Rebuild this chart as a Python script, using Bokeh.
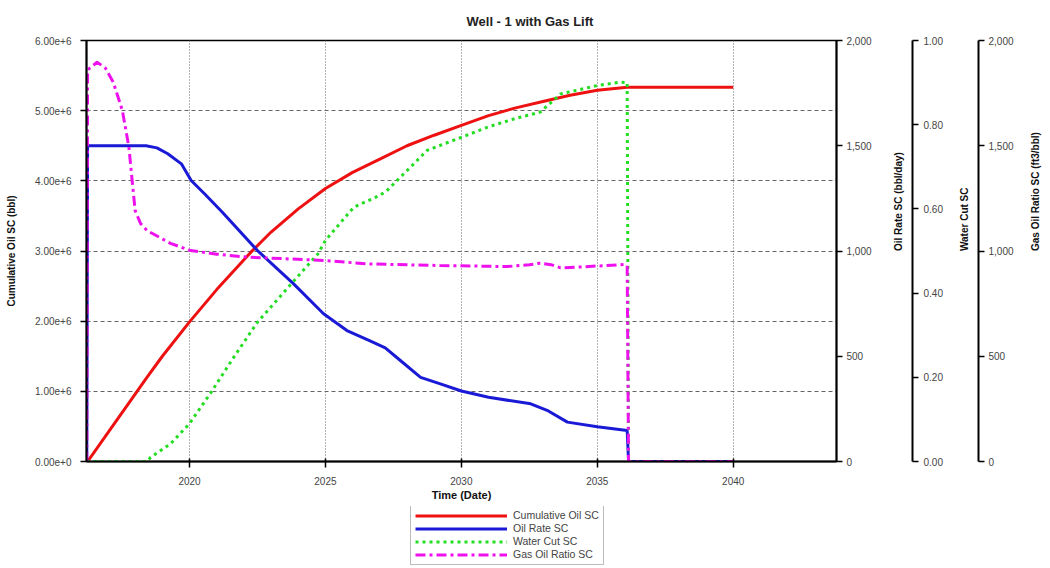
import math
from bokeh.plotting import figure
from bokeh.layouts import column
from bokeh.models import (Range1d, LinearAxis, FixedTicker, NumeralTickFormatter,
                          PrintfTickFormatter, Legend, LegendItem)
from bokeh.embed import file_html
from bokeh.resources import INLINE

# ---------------- data ----------------
cum_years = [2016.25, 2017.0, 2018.0, 2018.4, 2019.0, 2020.0, 2021.0, 2022.25, 2023.0,
             2024.0, 2025.0, 2026.0, 2027.0, 2028.0, 2029.0, 2030.0, 2031.0, 2032.0,
             2033.0, 2034.0, 2035.0, 2036.1, 2040.0]
cum_oil = [0, 0.41e6, 0.96e6, 1.18e6, 1.5e6, 1.99e6, 2.45e6, 2.98e6, 3.27e6,
           3.6e6, 3.89e6, 4.12e6, 4.31e6, 4.5e6, 4.65e6, 4.79e6, 4.93e6, 5.04e6,
           5.13e6, 5.22e6, 5.29e6, 5.335e6, 5.335e6]

rate_years = [2016.22, 2016.25, 2018.4, 2018.8, 2019.2, 2019.7, 2020.06, 2020.55, 2021.2,
              2022.5, 2023.83, 2024.93, 2025.79, 2026.6, 2027.2, 2027.8, 2028.5, 2029.2,
              2030.0, 2031.0, 2032.55, 2033.2, 2033.9, 2035.0, 2036.1, 2036.15, 2040.0]
oil_rate = [0, 1500, 1500, 1490, 1462, 1414, 1335, 1272, 1185,
            1002, 844, 702, 622, 575, 540, 475, 400, 370,
            335, 305, 274, 240, 187, 165, 147, 0, 0]

wc_years = [2016.22, 2018.44, 2018.57, 2019.3, 2020.0, 2020.8, 2021.63, 2022.5, 2023.74,
            2024.72, 2025.0, 2026.04, 2027.0, 2027.27, 2028.25, 2028.74, 2030.0, 2031.0,
            2032.0, 2032.9, 2033.65, 2035.0, 2035.85, 2036.1, 2036.15, 2040.0]
water_cut = [0, 0, 0.01, 0.042, 0.09, 0.165, 0.248, 0.331, 0.422,
             0.493, 0.525, 0.604, 0.632, 0.644, 0.707, 0.739, 0.77, 0.795,
             0.815, 0.83, 0.873, 0.893, 0.901, 0.9, 0, 0]

gor_years = [2016.22, 2016.25, 2016.6, 2016.9, 2017.2, 2017.53, 2017.77, 2017.9, 2018.0,
             2018.2, 2018.44, 2019.3, 2020.04, 2021.0, 2022.1, 2025.0, 2026.5, 2029.2,
             2031.68, 2032.5, 2032.9, 2033.3, 2033.65, 2034.5, 2036.0, 2036.1, 2036.15, 2040.0]
gor = [0, 1860, 1897, 1870, 1800, 1667, 1493, 1320, 1192,
       1130, 1097, 1036, 1002, 985, 971, 955, 939, 931,
       926, 935, 942, 935, 920, 925, 936, 930, 0, 0]

series_names = ["Cumulative Oil SC", "Oil Rate SC", "Water Cut SC", "Gas Oil Ratio SC"]

x_ticks = [2020, 2025, 2030, 2035, 2040]
left_ticks = [0, 1e6, 2e6, 3e6, 4e6, 5e6, 6e6]
rate_ticks = [0, 500, 1000, 1500, 2000]
wc_ticks = [0, 0.2, 0.4, 0.6, 0.8, 1.0]
gor_ticks = [0, 500, 1000, 1500, 2000]

FONT = "Liberation Sans"
TICK_COLOR = "#444444"

STYLES = [dict(line_color="#ee1111", line_width=3),
          dict(line_color="#1a1ad6", line_width=3),
          dict(line_color="#22dd22", line_width=3, line_dash="3 4"),
          dict(line_color="#ee11ee", line_width=3, line_dash="10 4 3 4")]

p = figure(width=1050, height=506, output_backend="svg", toolbar_location=None,
           x_range=Range1d(2016.21, 2043.8), y_range=Range1d(0, 6e6),
           min_border_left=86, min_border_right=214, min_border_top=40,
           min_border_bottom=45, background_fill_color="white",
           border_fill_color="white", outline_line_color="black",
           outline_line_width=1.5)

p.title.text = "Well - 1 with Gas Lift"
p.title.align = "left"
p.title.offset = 380
p.title.text_font = FONT
p.title.text_font_size = "13px"
p.title.text_font_style = "bold"
p.title.text_color = "#222222"
p.title.standoff = 23

p.extra_y_ranges = {"rate": Range1d(0, 2000), "wc": Range1d(0, 1), "gor": Range1d(0, 2000)}


def style_axis(ax, label):
    ax.axis_label = label
    ax.axis_label_text_font = FONT
    ax.axis_label_text_font_size = "10px"
    ax.axis_label_text_font_style = "bold"
    ax.axis_label_text_color = "#111111"
    ax.major_label_text_font = FONT
    ax.major_label_text_font_size = "10px"
    ax.major_label_text_color = TICK_COLOR
    ax.axis_line_color = "black"
    ax.axis_line_width = 2
    ax.major_tick_line_color = "black"
    ax.major_tick_line_width = 1.5
    ax.major_tick_out = 6
    ax.major_tick_in = 0
    ax.minor_tick_line_color = None


# x axis
xa = p.xaxis[0]
style_axis(xa, "Time (Date)")
xa.ticker = FixedTicker(ticks=x_ticks)
xa.major_tick_in = 3
xa.major_label_standoff = 9
xa.axis_label_standoff = 1
xa.axis_label_text_font_size = "11px"

# left axis
ya = p.yaxis[0]
style_axis(ya, "Cumulative Oil SC (bbl)")
ya.ticker = FixedTicker(ticks=left_ticks)
ya.formatter = PrintfTickFormatter(format="%.2e")
ya.major_label_standoff = 9
ya.axis_label_standoff = 15

# right axes
ax_rate = LinearAxis(y_range_name="rate", ticker=FixedTicker(ticks=rate_ticks),
                     formatter=NumeralTickFormatter(format="0,0"))
style_axis(ax_rate, "Oil Rate SC (bbl/day)")
ax_rate.axis_label_orientation = math.pi / 2
ax_rate.major_label_standoff = 4
ax_rate.axis_label_standoff = 24
p.add_layout(ax_rate, "right")

ax_wc = LinearAxis(y_range_name="wc", ticker=FixedTicker(ticks=wc_ticks),
                   formatter=NumeralTickFormatter(format="0.00"))
style_axis(ax_wc, "Water Cut SC")
ax_wc.axis_label_orientation = math.pi / 2
ax_wc.major_label_standoff = 5
ax_wc.axis_label_standoff = 19
p.add_layout(ax_wc, "right")

ax_gor = LinearAxis(y_range_name="gor", ticker=FixedTicker(ticks=gor_ticks),
                    formatter=NumeralTickFormatter(format="0,0"))
style_axis(ax_gor, "Gas Oil Ratio SC (ft3/bbl)")
ax_gor.axis_label_orientation = math.pi / 2
ax_gor.major_label_standoff = 4
ax_gor.axis_label_standoff = 19
p.add_layout(ax_gor, "right")

# grids
p.xgrid.ticker = FixedTicker(ticks=x_ticks)
p.xgrid.grid_line_color = "#666666"
p.xgrid.grid_line_dash = "1 2"
p.xgrid.grid_line_width = 1
p.ygrid.ticker = FixedTicker(ticks=left_ticks)
p.ygrid.grid_line_color = "#666666"
p.ygrid.grid_line_dash = "4 3"
p.ygrid.grid_line_width = 1

# lines
p.line(cum_years, cum_oil, **STYLES[0])
p.line(rate_years, oil_rate, y_range_name="rate", **STYLES[1])
p.line(wc_years, water_cut, y_range_name="wc", **STYLES[2])
p.line(gor_years, gor, y_range_name="gor", **STYLES[3])

# legend strip below the chart (its frame aligns with the chart frame)
lf = figure(width=1050, height=62, output_backend="svg", toolbar_location=None,
            x_range=Range1d(0, 1), y_range=Range1d(0, 1),
            x_axis_location=None, y_axis_location=None, min_border=0,
            outline_line_color=None, background_fill_color="white",
            border_fill_color="white")
lf.xgrid.visible = False
lf.ygrid.visible = False
items = []
for name, st in zip(series_names, STYLES):
    # legend-only sample lines, kept outside the visible range
    r = lf.line([-5, -4], [-5, -4], **st)
    items.append(LegendItem(label=name, renderers=[r]))

legend = Legend(items=items, location=(324, 3), orientation="vertical",
                glyph_width=92, glyph_height=11, label_height=11, spacing=1,
                padding=4, margin=0, label_standoff=6,
                label_text_font=FONT, label_text_font_size="10.5px",
                label_text_color="#444444", border_line_color="#777777",
                border_line_width=1, background_fill_color="white")
lf.add_layout(legend, "center")

layout = column(p, lf, spacing=0)
open("out.html", "w").write(file_html(layout, INLINE))
